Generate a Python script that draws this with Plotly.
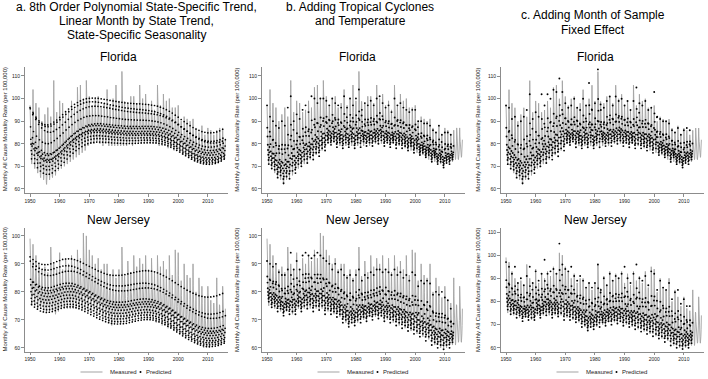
import plotly.graph_objects as go

# ---------------- data ----------------
years = list(range(1950, 2016))          # measured series, monthly, 1950-2015
pred_years_bc = list(range(1950, 2013))  # predictions in panels b, c end in 2012

# seasonal profile of each year (share of that year's trough-to-January-peak range), Jan..Dec
meas_profile = [1.0, 0.72, 0.55, 0.36, 0.22, 0.10, 0.03, 0.0, 0.04, 0.15, 0.30, 0.60]
pred_profile = [1.0, 0.62, 0.47, 0.33, 0.24, 0.16, 0.07, 0.0, 0.11, 0.20, 0.29, 0.55]

# Florida measured: January peak and summer trough per year
fl_meas_peak = [97, 104, 98, 96, 90, 93, 96, 92, 108, 94,
                99, 98, 94, 95, 99, 96, 105, 106, 100, 108,
                101, 97, 100, 101, 96, 98, 104, 97, 100, 106,
                99, 112, 96, 98, 101, 101, 98, 106, 100, 102,
                97, 99, 95, 106, 97, 102, 99, 100, 96, 96,
                97, 90, 92, 91, 90, 91, 87, 85, 88, 84,
                87, 86, 84, 86, 87, 87]
fl_meas_low = [71, 69, 67, 65, 64, 62, 64, 65, 66, 68,
               69, 70, 71, 72, 73, 74, 75, 76, 77, 79,
               80, 80, 81, 80, 79, 80, 79, 79, 79, 79,
               79, 79, 79, 80, 79, 80, 80, 80, 80, 80,
               80, 80, 80, 79, 79, 79, 78, 78, 77, 77,
               76, 75, 75, 74, 73, 72, 72, 71, 71, 71,
               72, 72, 72, 73, 73, 74]

# New Jersey measured
nj_meas_peak = [99, 97, 93, 90, 88, 89, 87, 96, 90, 88,
                94, 88, 92, 90, 93, 91, 95, 92, 101, 100,
                95, 93, 90, 92, 88, 90, 90, 86, 88, 85,
                88, 96, 84, 91, 87, 93, 89, 92, 90, 93,
                88, 92, 87, 93, 89, 91, 88, 93, 86, 95,
                94, 84, 90, 86, 85, 90, 80, 85, 82, 78,
                82, 77, 76, 85, 75, 82]
nj_meas_low = [75, 75, 74, 74, 73, 73, 73, 73, 72, 73,
               74, 74, 74, 74, 74, 74, 74, 74, 74, 73,
               73, 73, 72, 72, 71, 70, 69, 68, 69, 69,
               69, 70, 70, 70, 71, 71, 71, 71, 71, 70,
               70, 70, 69, 69, 68, 68, 67, 67, 66, 66,
               65, 65, 64, 64, 63, 62, 61, 61, 60, 60,
               60, 61, 61, 61, 62, 62]

# Panel a: smooth polynomial state trend per year + month effects (Jan..Dec) at 1950 and at 2015
fl_trend_a = [79.5, 77.5, 75.5, 74.0, 73.0, 72.5, 72.5, 73.0, 74.0, 75.0,
              76.3, 77.6, 79.0, 80.3, 81.5, 82.6, 83.5, 84.3, 85.0, 85.5,
              85.8, 86.0, 86.1, 86.1, 86.0, 85.9, 85.8, 85.6, 85.5, 85.4,
              85.3, 85.2, 85.1, 85.1, 85.1, 85.1, 85.1, 85.2, 85.2, 85.2,
              85.2, 85.1, 85.0, 84.8, 84.5, 84.1, 83.6, 83.0, 82.3, 81.5,
              80.7, 79.8, 79.0, 78.2, 77.4, 76.7, 76.1, 75.6, 75.2, 75.0,
              74.9, 75.0, 75.2, 75.6, 76.2, 77.0]
nj_trend_a = [83.5, 82.5, 81.7, 81.0, 80.6, 80.4, 80.4, 80.6, 80.9, 81.3,
              81.6, 81.9, 82.0, 82.0, 81.9, 81.6, 81.2, 80.7, 80.1, 79.5,
              78.9, 78.3, 77.7, 77.1, 76.6, 76.1, 75.7, 75.4, 75.2, 75.1,
              75.1, 75.1, 75.2, 75.4, 75.6, 75.8, 76.0, 76.1, 76.2, 76.2,
              76.1, 75.9, 75.6, 75.2, 74.7, 74.1, 73.5, 72.8, 72.1, 71.3,
              70.6, 69.8, 69.1, 68.4, 67.8, 67.2, 66.7, 66.2, 65.9, 65.6,
              65.5, 65.5, 65.6, 65.8, 66.1, 66.5]
fl_month_fx_1950 = [16.5, 16.0, 8.0, 2.5, 0.3, -2.5, -6.2, -4.1, -0.5, 0.7, 3.2, 13.5]
fl_month_fx_2015 = [9.3, 5.3, 3.2, 0.9, -1.3, -2.6, -3.8, -3.3, -2.0, 0.0, 2.0, 4.8]
nj_month_fx_1950 = [9.0, 7.5, 1.0, -1.0, -3.4, -5.8, -8.0, -7.0, -4.6, -2.2, 0.0, 5.5]
nj_month_fx_2015 = [13.0, 6.5, 1.5, -0.2, -2.0, -3.5, -4.8, -4.2, -2.8, -1.0, 0.5, 5.0]

# Panels b, c: predicted January peak and summer trough per year (1950-2012)
fl_low_bc = [71, 69, 68.5, 65, 66, 62.5, 65.5, 64.5, 68, 67,
             71, 70, 73, 71.5, 74, 73, 76, 74.5, 78, 77,
             80.5, 79.5, 81, 78.5, 80.5, 78, 80.5, 78.5, 81, 78,
             80.5, 78.5, 81, 79, 80.5, 79, 81, 80, 81.5, 79,
             80.5, 78.5, 80.5, 78, 80, 78, 79, 77, 79, 76,
             78, 75, 76, 74, 75, 72, 74, 71, 72, 69.5,
             71.5, 71, 73]
fl_peak_b = [97, 92, 90, 88, 87, 90, 88, 96, 101, 90,
             93, 91, 95, 97, 94, 101, 100, 98, 100, 100,
             99, 97, 100, 98, 97, 96, 101, 96, 100, 97,
             100, 104, 95, 98, 97, 99, 97, 100, 101, 98,
             96, 97, 94, 100, 97, 98, 96, 95, 94, 95,
             95, 90, 90, 89, 89, 88, 86, 85, 88, 84,
             85, 85, 84]
fl_peak_c = [97, 96, 91, 92, 88, 90, 92, 95, 102, 91,
             94, 92, 102, 97, 102, 100, 104, 103, 109, 103,
             98, 96, 97, 100, 96, 95, 100, 97, 107, 95,
             98, 113, 95, 96, 99, 101, 97, 101, 99, 100,
             97, 99, 95, 99, 105, 98, 97, 99, 95, 96,
             103, 92, 91, 90, 90, 89, 86, 85, 87, 84,
             86, 87, 86]
nj_low_bc = [76.5, 74.5, 75, 73, 74, 71.5, 73.5, 72, 73, 72,
             75, 73, 75, 74, 75.5, 73, 75, 73.5, 75, 72,
             74, 72, 73, 71, 72, 69, 70, 67.5, 69, 68,
             70, 69, 71, 69.5, 71.5, 70, 72, 70.5, 71.5, 69.5,
             71, 69, 70, 68, 69, 67, 68, 66, 67, 65,
             66, 64, 65, 62.5, 64, 61, 62, 60, 61, 59.5,
             61, 60, 62]
nj_peak_b = [91, 90, 89, 90, 87, 86, 86, 88, 94, 88,
             91, 88, 93, 94, 93, 92, 93, 94, 93, 92,
             91, 90, 88, 90, 87, 88, 86, 85, 86, 84,
             86, 88, 84, 86, 85, 87, 86, 88, 88, 87,
             88, 87, 86, 88, 86, 87, 85, 86, 84, 87,
             86, 82, 84, 83, 84, 83, 79, 80, 79, 80,
             78, 77, 74]
nj_peak_c = [97, 95, 92, 95, 88, 90, 87, 91, 95, 88,
             93, 89, 92, 98, 92, 93, 94, 92, 105, 96,
             94, 93, 95, 91, 89, 91, 89, 86, 88, 86,
             88, 96, 85, 90, 87, 92, 89, 91, 90, 92,
             95, 90, 88, 92, 96, 90, 89, 91, 87, 93,
             92, 85, 89, 86, 85, 88, 81, 84, 85, 79,
             81, 78, 78]

col_titles = [["a. 8th Order Polynomial State-Specific Trend,",
               "Linear Month by State Trend,",
               "State-Specific Seasonality"],
              ["b. Adding Tropical Cyclones", "and Temperature"],
              ["c. Adding Month of Sample", "Fixed Effect"]]
row_titles = ["Florida", "New Jersey"]
y_title = "Monthly All Cause Mortality Rate (per 100,000)"
x_ticks = [1950, 1960, 1970, 1980, 1990, 2000, 2010]


# ---------------- build monthly series ----------------
def monthly(peak, low, profile, yrs):
    t, v = [], []
    for i, y in enumerate(yrs):
        for m in range(12):
            t.append(y + m / 12)
            v.append(low[i] + (peak[i] - low[i]) * profile[m])
    return t, v


def model_a(trend, fx0, fx1, yrs):
    t, v = [], []
    span = yrs[-1] + 1 - yrs[0]
    for i, y in enumerate(yrs):
        for m in range(12):
            tt = y + m / 12
            w = (tt - yrs[0]) / span
            t.append(tt)
            v.append(trend[i] + fx0[m] * (1 - w) + fx1[m] * w)
    return t, v


meas = [monthly(fl_meas_peak, fl_meas_low, meas_profile, years),
        monthly(nj_meas_peak, nj_meas_low, meas_profile, years)]
pred = [[model_a(fl_trend_a, fl_month_fx_1950, fl_month_fx_2015, years),
         monthly(fl_peak_b, fl_low_bc, pred_profile, pred_years_bc),
         monthly(fl_peak_c, fl_low_bc, pred_profile, pred_years_bc)],
        [model_a(nj_trend_a, nj_month_fx_1950, nj_month_fx_2015, years),
         monthly(nj_peak_b, nj_low_bc, pred_profile, pred_years_bc),
         monthly(nj_peak_c, nj_low_bc, pred_profile, pred_years_bc)]]

# ---------------- layout geometry (pixels) ----------------
W, H = 708, 379
def px_x(p): return p / W
def px_y(p): return 1 - p / H

col_px = [(25, 228), (262, 465), (501, 704)]
row_px = [(66.7, 193.0), (228.3, 351.5)]
y_ranges = [[[58.2, 114.1], [58.2, 114.1], [58.2, 114.2]],
            [[58.7, 102.7], [58.7, 102.7], [58.4, 111.6]]]
y_ticks = [[list(range(60, 111, 10))] * 3,
           [list(range(60, 101, 10)), list(range(60, 101, 10)), list(range(60, 111, 10))]]

FONT = "Liberation Sans, Arial, sans-serif"
MEAS_COLOR = "#a3a3a3"
AXIS_COLOR = "#8c8c8c"

fig = go.Figure()
layout = dict(width=W, height=H, margin=dict(l=0, r=0, t=0, b=0),
              paper_bgcolor="white", plot_bgcolor="white", showlegend=False,
              font=dict(family=FONT, color="black"))
annotations = []
shapes = []

for r in range(2):
    for c in range(3):
        k = r * 3 + c
        xa = "x" if k == 0 else f"x{k+1}"
        ya = "y" if k == 0 else f"y{k+1}"
        xkey = "xaxis" if k == 0 else f"xaxis{k+1}"
        ykey = "yaxis" if k == 0 else f"yaxis{k+1}"
        mt, mv = meas[r]
        pt, pv = pred[r][c]
        fig.add_trace(go.Scatter(x=mt, y=mv, mode="lines", xaxis=xa, yaxis=ya,
                                 line=dict(color=MEAS_COLOR, width=0.9),
                                 name="Measured", hoverinfo="skip"))
        fig.add_trace(go.Scatter(x=pt, y=pv, mode="markers", xaxis=xa, yaxis=ya,
                                 marker=dict(color="black", size=1.7 if c == 0 else 1.9,
                                             line=dict(width=0)),
                                 name="Predicted", hoverinfo="skip"))
        x0, x1 = col_px[c]
        y0, y1 = row_px[r]
        layout[xkey] = dict(domain=[px_x(x0), px_x(x1)], range=[1948.3, 2016.8],
                            tickvals=x_ticks, ticks="outside", ticklen=3, tickwidth=0.7,
                            tickcolor=AXIS_COLOR, showline=True, linecolor=AXIS_COLOR,
                            linewidth=0.8, showgrid=False, zeroline=False,
                            tickfont=dict(size=5, color="#222"), anchor=ya)
        layout[ykey] = dict(domain=[px_y(y1), px_y(y0)], range=y_ranges[r][c],
                            tickvals=y_ticks[r][c], ticks="outside", ticklen=3, tickwidth=0.7,
                            tickcolor=AXIS_COLOR, showline=True, linecolor=AXIS_COLOR,
                            linewidth=0.8, showgrid=False, zeroline=False,
                            tickfont=dict(size=5, color="#222"), anchor=xa)

# column titles
title_cx = [136, 360, 593]
title_lines_y = [[7, 21, 35], [7, 21], [15, 29.5]]
for c in range(3):
    for line, yy in zip(col_titles[c], title_lines_y[c]):
        annotations.append(dict(text=line, x=px_x(title_cx[c]), y=px_y(yy), xref="paper",
                                yref="paper", xanchor="center", yanchor="middle",
                                showarrow=False, font=dict(size=12, family=FONT)))

# state titles and y-axis titles
state_cx = [118, 357, 595]
state_y = [57, 220]
ytitle_x = [4.5, 237, 478]
for r in range(2):
    for c in range(3):
        annotations.append(dict(text=row_titles[r], x=px_x(state_cx[c]), y=px_y(state_y[r]),
                                xref="paper", yref="paper", xanchor="center", yanchor="middle",
                                showarrow=False, font=dict(size=12, family=FONT)))
        yc = (row_px[r][0] + row_px[r][1]) / 2
        annotations.append(dict(text=y_title, x=px_x(ytitle_x[c]), y=px_y(yc), xref="paper",
                                yref="paper", xanchor="center", yanchor="middle", textangle=-90,
                                showarrow=False, font=dict(size=6, family=FONT, color="#222")))

# legends under each column
leg_y = 372
for c in range(3):
    cx = (col_px[c][0] + col_px[c][1]) / 2
    shapes.append(dict(type="line", xref="paper", yref="paper",
                       x0=px_x(cx - 46), x1=px_x(cx - 24), y0=px_y(leg_y), y1=px_y(leg_y),
                       line=dict(color=MEAS_COLOR, width=1)))
    annotations.append(dict(text="Measured", x=px_x(cx - 19), y=px_y(leg_y), xref="paper",
                            yref="paper", xanchor="left", yanchor="middle", showarrow=False,
                            font=dict(size=6, family=FONT, color="#222")))
    shapes.append(dict(type="circle", xref="paper", yref="paper",
                       x0=px_x(cx + 13), x1=px_x(cx + 15), y0=px_y(leg_y + 1), y1=px_y(leg_y - 1),
                       fillcolor="black", line=dict(width=0)))
    annotations.append(dict(text="Predicted", x=px_x(cx + 17), y=px_y(leg_y), xref="paper",
                            yref="paper", xanchor="left", yanchor="middle", showarrow=False,
                            font=dict(size=6, family=FONT, color="#222")))

layout["annotations"] = annotations
layout["shapes"] = shapes
fig.update_layout(**layout)
fig.write_html("out.html", config={"displayModeBar": False},
               post_script="document.body.style.margin='0px';")
